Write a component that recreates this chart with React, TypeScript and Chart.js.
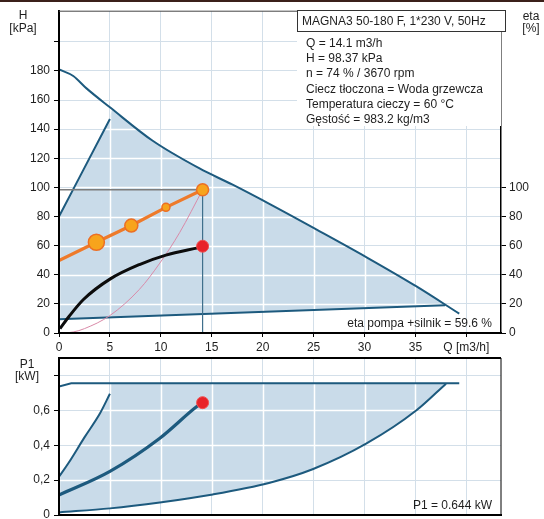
import React, { useEffect, useRef } from 'react';
import { Chart, registerables } from 'chart.js';
Chart.register(...registerables);

const FONT = '"Liberation Sans", Arial, Helvetica, sans-serif';
const BLUE = '#1d5a7e';
const FILL = '#c9dbe9';
const GRID = '#d3dfe9';
const TXT = '#1e1e1e';

// ---------- shared axis ----------
const Q_MAX = 43.4;
const qTicks = [0, 5, 10, 15, 20, 25, 30, 35, 40];

// ---------- top chart (H / eta) ----------
const H_MAX = 221;
const hTicks = [0, 20, 40, 60, 80, 100, 120, 140, 160, 180, 200];
const etaTicks = [0, 20, 40, 60, 80, 100];

const maxCurveQ = [0, 1.4, 2.7, 5, 9.2, 13.8, 17, 20.7, 25.3, 30.2, 35.1, 39.3];
const maxCurveH = [181, 176.5, 168, 155, 132, 113, 102, 88.5, 71, 52, 32, 13.3];
const leftLineQ = [0, 5];
const leftLineH = [80, 147];
const minLineQ = [0, 37.9];
const minLineH = [9.5, 19];
const regionQ = [0, 5, 5.2, 9.2, 13.8, 17, 20.7, 25.3, 30.2, 35.1, 37.9, 0];
const regionH = [80, 147, 154, 132, 113, 102, 88.5, 71, 52, 32, 19.3, 9.5];

const headQ = [0, 3.67, 7.1, 10.5, 14.1];
const headH = [49.8, 62.3, 73.8, 86.3, 98.37];
const headMarkerR = [0, 8, 6.5, 4, 6];

const etaQ = [0.1, 1, 2.4, 5, 7.9, 10.5, 13.5, 14.1];
const etaV = [3, 11.5, 23, 37, 47, 53.5, 58.3, 59.2];

const systemQ = [0, 1.4, 2.5, 5, 7.9, 9.9, 11.85, 14.1];
const systemH = [0, 0.7, 3, 12, 30, 48, 69, 98.37];

const opQ = 14.1;
const opH = 98.37;
const opEta = 59.6;

// ---------- bottom chart (P1) ----------
const P_MAX = 0.9;
const pTicks = [0, 0.2, 0.4, 0.6, 0.8];
const pMaxQ = [0, 1.2, 39.3];
const pMaxP = [0.737, 0.755, 0.755];
const pLeftQ = [0, 0.9, 2.5, 4, 5];
const pLeftP = [0.219, 0.295, 0.445, 0.58, 0.695];
const pMinQ = [0, 5, 9.9, 15.1, 20.7, 24.9, 30.2, 35.1, 38];
const pMinP = [0.015, 0.038, 0.072, 0.118, 0.185, 0.262, 0.41, 0.6, 0.753];
const pOpQ = [0, 5, 9.9, 13.5, 14.1];
const pOpP = [0.114, 0.25, 0.44, 0.62, 0.644];
const pRegionQ = [...pLeftQ, 5, 38, ...pMinQ.slice().reverse()];
const pRegionP = [...pLeftP, 0.755, 0.755, ...pMinP.slice().reverse()];
const opP1 = 0.644;

const pts = (xs: number[], ys: number[]) => xs.map((x, i) => ({ x, y: ys[i] }));

function regionPlugin(idx: number, yKey: string) {
  return {
    id: 'region' + idx,
    beforeDatasetsDraw(chart: any) {
      const { ctx, chartArea } = chart;
      const meta = chart.getDatasetMeta(idx);
      const els = meta.data;
      ctx.save();
      ctx.beginPath();
      ctx.rect(chartArea.left, chartArea.top, chartArea.width, chartArea.height);
      ctx.clip();
      ctx.beginPath();
      els.forEach((p: any, i: number) => (i ? ctx.lineTo(p.x, p.y) : ctx.moveTo(p.x, p.y)));
      ctx.closePath();
      ctx.fillStyle = FILL;
      ctx.fill();
      ctx.clip();
      ctx.strokeStyle = '#ffffff';
      ctx.lineWidth = 1.5;
      const xs = chart.scales.x;
      const ys = chart.scales[yKey];
      xs.ticks.forEach((t: any) => {
        const px = Math.round(xs.getPixelForValue(t.value)) + 0.5;
        ctx.beginPath();
        ctx.moveTo(px, chartArea.top);
        ctx.lineTo(px, chartArea.bottom);
        ctx.stroke();
      });
      ys.ticks.forEach((t: any) => {
        const py = Math.round(ys.getPixelForValue(t.value)) + 0.5;
        ctx.beginPath();
        ctx.moveTo(chartArea.left, py);
        ctx.lineTo(chartArea.right, py);
        ctx.stroke();
      });
      ctx.restore();
    },
  };
}

function framePlugin(topW: number, topColor: string, rightW: number) {
  return {
    id: 'frame',
    afterDraw(chart: any) {
      const { ctx, chartArea } = chart;
      ctx.save();
      ctx.strokeStyle = topColor;
      ctx.lineWidth = topW;
      ctx.beginPath();
      ctx.moveTo(chartArea.left, chartArea.top);
      ctx.lineTo(chartArea.right, chartArea.top);
      ctx.stroke();
      if (rightW > 0) {
        ctx.strokeStyle = '#000';
        ctx.lineWidth = rightW;
        ctx.beginPath();
        ctx.moveTo(chartArea.right, chartArea.top);
        ctx.lineTo(chartArea.right, chartArea.bottom);
        ctx.stroke();
      }
      ctx.restore();
    },
  };
}

const tickFont = { family: FONT, size: 12 };

export default function App() {
  const topRef = useRef<HTMLCanvasElement>(null);
  const botRef = useRef<HTMLCanvasElement>(null);

  useEffect(() => {
    const line = (data: any, color: string, width: number, order: number, extra: any = {}) => ({
      type: 'line',
      data,
      borderColor: color,
      borderWidth: width,
      pointRadius: 0,
      fill: false,
      order,
      cubicInterpolationMode: 'monotone',
      ...extra,
    });

    const top = new Chart(topRef.current as HTMLCanvasElement, {
      type: 'line',
      data: {
        datasets: [
          { data: pts(regionQ, regionH), showLine: false, pointRadius: 0, order: 20 } as any,
          line(pts(maxCurveQ, maxCurveH), BLUE, 2, 10),
          line(pts(leftLineQ, leftLineH), BLUE, 2, 10),
          line(pts(minLineQ, minLineH), BLUE, 2, 10),
          line(pts(systemQ, systemH), '#d98aa8', 1, 8),
          line(pts([0, opQ], [opH, opH]), '#7d7d7d', 1.5, 8),
          line(pts([opQ, opQ], [0, opH]), '#3f6f8c', 1.2, 8),
          line(pts(etaQ, etaV), '#0c0c0c', 3, 6),
          line(pts(headQ, headH), '#ee7a2a', 3.2, 4, {
            cubicInterpolationMode: 'default',
            pointRadius: headMarkerR,
            pointBackgroundColor: '#f7a41c',
            pointBorderColor: '#ec6f24',
            pointBorderWidth: 1.5,
          }),
          line(pts([opQ], [opEta]), '#e8232a', 0, 2, {
            showLine: false,
            pointRadius: 6,
            pointBackgroundColor: '#e8232a',
            pointBorderColor: '#f05050',
            pointBorderWidth: 1,
          }),
        ],
      },
      options: {
        responsive: false,
        animation: false,
        events: [],
        layout: { padding: { top: 10 } },
        plugins: { legend: { display: false }, tooltip: { enabled: false } },
        scales: {
          x: {
            type: 'linear',
            min: 0,
            max: Q_MAX,
            afterBuildTicks: (s: any) => {
              s.ticks = qTicks.map((v) => ({ value: v }));
            },
            afterFit: (s: any) => {
              s.height = 23;
            },
            ticks: {
              autoSkip: false,
              maxRotation: 0,
              padding: 3,
              color: TXT,
              font: tickFont,
              callback: (v: any) => (v === 40 ? 'Q [m3/h]' : String(v)),
            },
            grid: { color: GRID, lineWidth: 1, tickLength: 4, tickColor: '#000' },
            border: { color: '#000', width: 2, z: 1 },
          },
          y: {
            type: 'linear',
            position: 'left',
            min: 0,
            max: H_MAX,
            afterBuildTicks: (s: any) => {
              s.ticks = hTicks.map((v) => ({ value: v }));
            },
            afterFit: (s: any) => {
              s.width = 59;
            },
            ticks: {
              padding: 4,
              color: TXT,
              font: tickFont,
              callback: (v: any) => (v === 200 ? '' : String(v)),
            },
            grid: { color: GRID, lineWidth: 1, tickLength: 5, tickColor: '#000' },
            border: { color: '#000', width: 2, z: 1 },
          },
          y2: {
            type: 'linear',
            position: 'right',
            min: 0,
            max: H_MAX,
            afterBuildTicks: (s: any) => {
              s.ticks = etaTicks.map((v) => ({ value: v }));
            },
            afterFit: (s: any) => {
              s.width = 43;
            },
            ticks: { padding: 3, color: TXT, font: tickFont },
            grid: { drawOnChartArea: false, tickLength: 5, tickColor: '#000' },
            border: { color: '#000', width: 1.5, z: 1 },
          },
        },
      } as any,
      plugins: [regionPlugin(0, 'y'), framePlugin(1, '#444', 0)],
    } as any);

    const bot = new Chart(botRef.current as HTMLCanvasElement, {
      type: 'line',
      data: {
        datasets: [
          { data: pts(pRegionQ, pRegionP), showLine: false, pointRadius: 0, order: 20 } as any,
          line(pts(pMaxQ, pMaxP), BLUE, 2, 10, { cubicInterpolationMode: 'default' }),
          line(pts(pLeftQ, pLeftP), BLUE, 2, 10),
          line(pts(pMinQ, pMinP), BLUE, 2, 10),
          line(pts(pOpQ, pOpP), BLUE, 3.2, 6),
          line(pts([opQ], [opP1]), '#e8232a', 0, 2, {
            showLine: false,
            pointRadius: 6,
            pointBackgroundColor: '#e8232a',
            pointBorderColor: '#f05050',
            pointBorderWidth: 1,
          }),
        ],
      },
      options: {
        responsive: false,
        animation: false,
        events: [],
        layout: { padding: { top: 18, right: 43 } },
        plugins: { legend: { display: false }, tooltip: { enabled: false } },
        scales: {
          x: {
            type: 'linear',
            min: 0,
            max: Q_MAX,
            afterBuildTicks: (s: any) => {
              s.ticks = qTicks.map((v) => ({ value: v }));
            },
            afterFit: (s: any) => {
              s.height = 25;
            },
            ticks: { display: false },
            grid: { color: GRID, lineWidth: 1, drawTicks: false },
            border: { color: '#000', width: 2, z: 1 },
          },
          y: {
            type: 'linear',
            position: 'left',
            min: 0,
            max: P_MAX,
            afterBuildTicks: (s: any) => {
              s.ticks = pTicks.map((v) => ({ value: v }));
            },
            afterFit: (s: any) => {
              s.width = 59;
            },
            ticks: {
              padding: 4,
              color: TXT,
              font: tickFont,
              callback: (v: any) =>
                v === 0.8 ? '' : v === 0 ? '0' : Number(v).toFixed(1).replace('.', ','),
            },
            grid: { color: GRID, lineWidth: 1, tickLength: 5, tickColor: '#000' },
            border: { color: '#000', width: 2, z: 1 },
          },
        },
      } as any,
      plugins: [regionPlugin(0, 'y'), framePlugin(2, '#000', 1)],
    } as any);

    return () => {
      top.destroy();
      bot.destroy();
    };
  }, []);

  const abs = (s: React.CSSProperties): React.CSSProperties => ({ position: 'absolute', ...s });

  return (
    <div
      style={{
        position: 'fixed',
        left: 0,
        top: 0,
        width: 544,
        height: 519,
        overflow: 'hidden',
        background: '#fff',
        fontFamily: FONT,
        fontSize: 12,
        color: TXT,
      }}
    >
      <canvas ref={topRef} width={544} height={356} style={abs({ left: 0, top: 0, width: 544, height: 356 })} />
      <canvas ref={botRef} width={544} height={200} style={abs({ left: 0, top: 340, width: 544, height: 200 })} />
      <div style={abs({ left: 0, top: 0, width: 544, height: 2, background: '#3b201a' })} />

      <div style={abs({ left: 0, top: 9, width: 46, textAlign: 'center', lineHeight: '13px' })}>
        H<br />[kPa]
      </div>
      <div style={abs({ left: 510, top: 10, width: 42, textAlign: 'center', lineHeight: '12px' })}>
        eta<br />[%]
      </div>
      <div style={abs({ left: 0, top: 358, width: 54, textAlign: 'center', lineHeight: '12px' })}>
        P1<br />[kW]
      </div>

      <div style={abs({ left: 297, top: 32, width: 204, height: 94, background: '#fff' })} />
      <div
        style={abs({
          left: 297,
          top: 10,
          width: 203,
          height: 20,
          border: '1px solid #333',
          background: '#fff',
          lineHeight: '20px',
          paddingLeft: 4,
          boxSizing: 'content-box',
          whiteSpace: 'nowrap',
        })}
      >
        MAGNA3 50-180 F, 1*230 V, 50Hz
      </div>
      <div style={abs({ left: 306, top: 36, lineHeight: '15.2px', whiteSpace: 'nowrap' })}>
        Q = 14.1 m3/h<br />
        H = 98.37 kPa<br />
        n = 74 % / 3670 rpm<br />
        Ciecz tłoczona = Woda grzewcza<br />
        Temperatura cieczy = 60 °C<br />
        Gęstość = 983.2 kg/m3
      </div>

      <div style={abs({ left: 292, top: 315, width: 200, textAlign: 'right', lineHeight: '16px', whiteSpace: 'nowrap' })}>
        eta pompa +silnik = 59.6 %
      </div>
      <div style={abs({ left: 292, top: 497, width: 200, textAlign: 'right', lineHeight: '16px', whiteSpace: 'nowrap' })}>
        P1 = 0.644 kW
      </div>
    </div>
  );
}
